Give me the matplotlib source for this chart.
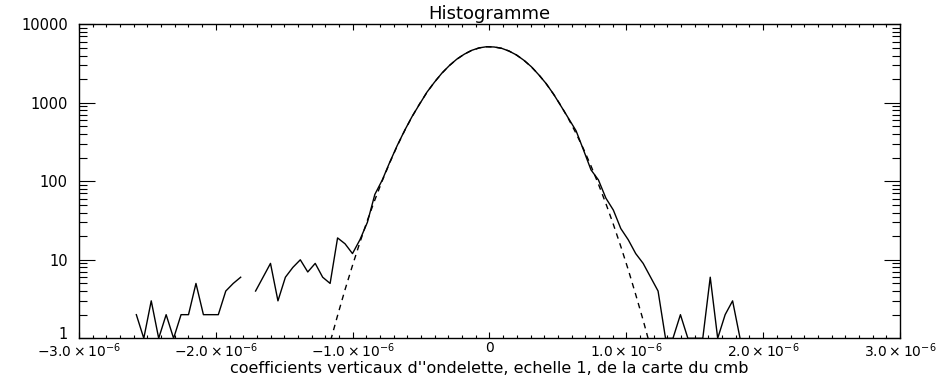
import numpy as np
import matplotlib
matplotlib.use("Agg")
import matplotlib.pyplot as plt
import matplotlib.transforms as mtransforms
from matplotlib.ticker import FixedLocator, NullFormatter, LogLocator

# ---- data ----
bin_start = -2.581e-6      # centre of first bin
bin_width = 5.447e-8

counts = [2, 1, 3, 1, 2, 1, 2, 2, 5, 2, 2, 2, 4, 5, 6,
          np.nan,
          4, 6, 9, 3, 6, 8, 10, 7, 9, 6, 5, 19, 16, 12,
          18, 30, 68, 104, 175, 285, 445, 670, 960, 1370, 1830, 2390, 2980,
          3600, 4160, 4660, 5010, 5180,
          5140, 4950, 4560, 4070, 3480, 2880, 2270, 1750, 1280, 900, 630, 440,
          250, 140, 104, 61, 43, 25, 18, 12, 9, 6, 4,
          1, 1, 2, 1, 1, 1, 6, 1, 2, 3, 1]

fit_first_bin = 25
fit_values = [0.39, 0.89, 1.95, 4.16, 8.46, 16.7, 31.8, 57.9, 102, 172, 282,
              441, 667, 968, 1361, 1837, 2382, 2985, 3589, 4167, 4650, 5000,
              5176, 5152, 4943, 4571, 4062, 3485, 2870, 2282, 1742, 1279, 910,
              620, 408, 258, 157, 92, 52, 28.3, 14.8, 7.48, 3.61, 1.70, 0.76]

xticks = [-3e-6, -2e-6, -1e-6, 0, 1e-6, 2e-6, 3e-6]
xticklabels = [r'$-3.0\times10^{-6}$', r'$-2.0\times10^{-6}$', r'$-1.0\times10^{-6}$',
               '0', r'$1.0\times10^{-6}$', r'$2.0\times10^{-6}$', r'$3.0\times10^{-6}$']
yticks = [1, 10, 100, 1000, 10000]
yticklabels = ['1', '10', '100', '1000', '10000']
title = 'Histogramme'
xlabel = "coefficients verticaux d''ondelette, echelle 1, de la carte du cmb"

# ---- plot ----
plt.rcParams['font.family'] = ['DejaVu Sans']
plt.rcParams['mathtext.fontset'] = 'dejavusans'

fig = plt.figure(figsize=(9.53, 3.75), dpi=100)
ax = fig.add_axes([79/953, (375-338.3)/375, (900-79)/953, (338.3-24.3)/375])

x = bin_start + bin_width * np.arange(len(counts))
ax.plot(x, counts, color='black', lw=1.0)

xf = bin_start + bin_width * (fit_first_bin + np.arange(len(fit_values)))
ax.plot(xf, fit_values, color='black', lw=1.0, linestyle=(0, (4, 3.5)))

ax.set_yscale('log')
ax.set_xlim(-3e-6, 3e-6)
ax.set_ylim(1, 10000)

ax.set_xticks(xticks)
ax.set_xticklabels(xticklabels, fontsize=10)
ax.xaxis.set_minor_locator(FixedLocator(np.arange(-3e-6, 3.0001e-6, 1e-7)))
ax.set_yticks(yticks)
ax.set_yticklabels(yticklabels, fontsize=10.5)
ax.yaxis.set_minor_locator(LogLocator(base=10, subs=np.arange(2, 10)))
ax.yaxis.set_minor_formatter(NullFormatter())

ax.tick_params(axis='x', which='major', direction='in', length=6.3*0.72, width=0.8,
               top=True, bottom=True, pad=2)
ax.tick_params(axis='x', which='minor', direction='in', length=3.2*0.72, width=0.8,
               top=True, bottom=True)
ax.tick_params(axis='y', which='major', direction='in', length=16.4*0.72, width=0.8,
               left=True, right=True, pad=8)
ax.tick_params(axis='y', which='minor', direction='in', length=8.2*0.72, width=0.8,
               left=True, right=True)

# the lowest y label sits slightly above the axis line, as in the reference
ylabs = ax.get_yticklabels()
shift = mtransforms.ScaledTranslation(0, 5/100, fig.dpi_scale_trans)
ylabs[0].set_transform(ylabs[0].get_transform() + shift)

for s in ax.spines.values():
    s.set_linewidth(1.0)

ax.set_title(title, fontsize=13, pad=4)
ax.set_xlabel(xlabel, fontsize=11.5, labelpad=1)

fig.savefig('out.png', dpi=100, facecolor='white')
